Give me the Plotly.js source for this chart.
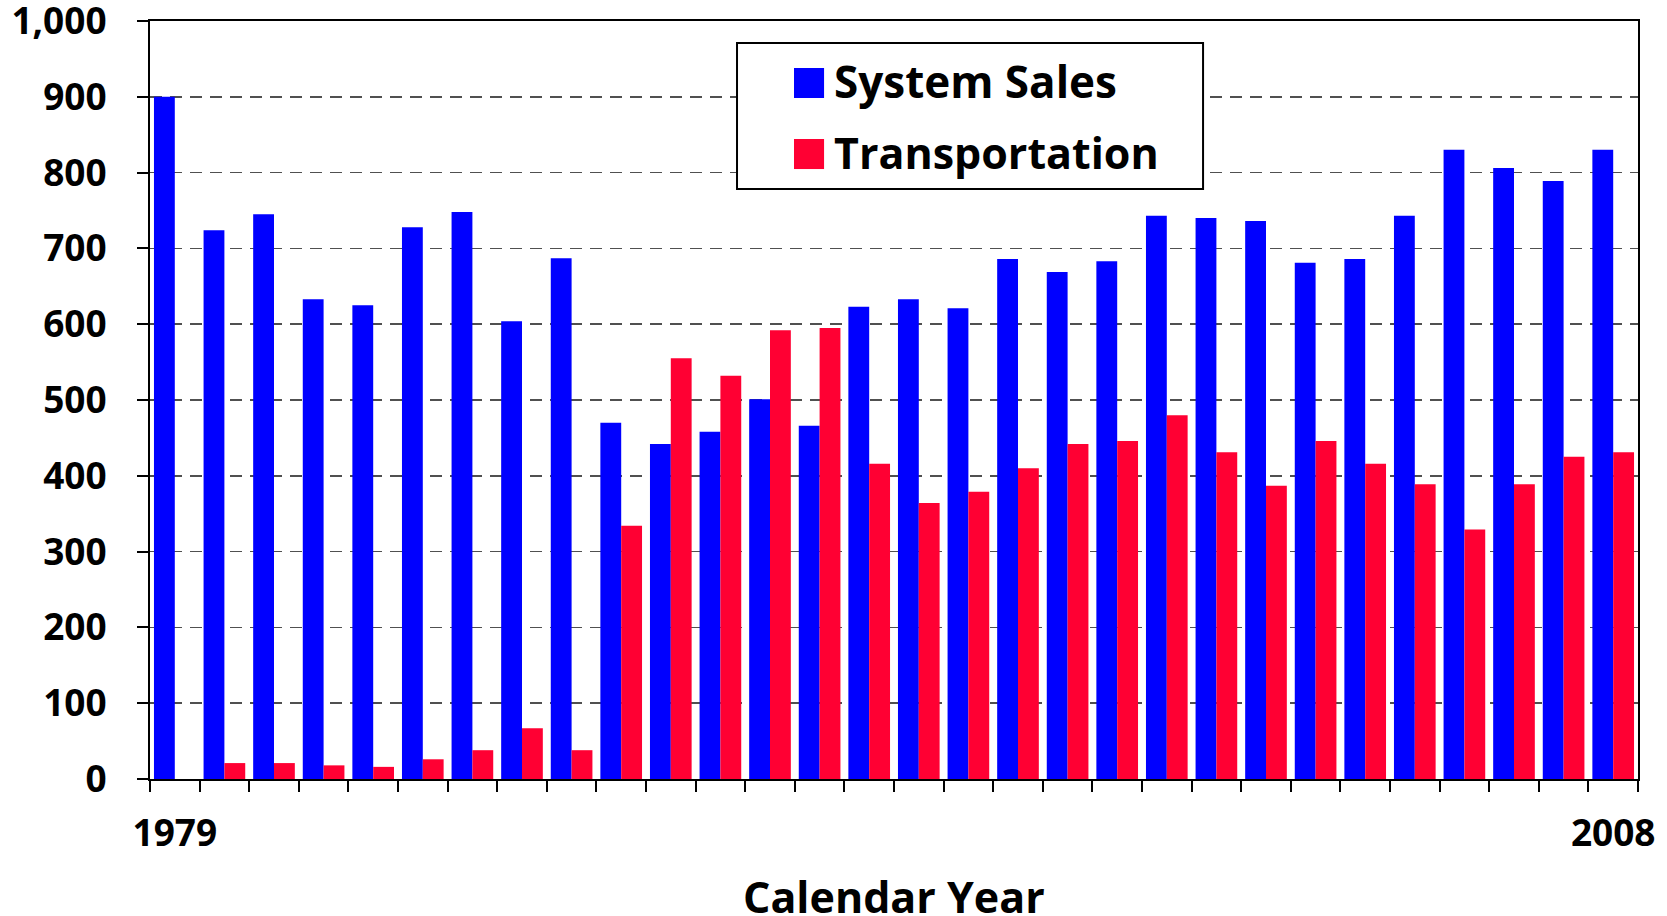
<!DOCTYPE html>
<html>
<head>
<meta charset="utf-8">
<script src="https://cdn.plot.ly/plotly-3.0.1.min.js"></script>
<style>html,body{margin:0;padding:0;background:#fff;}#chart{width:1667px;height:916px;}</style>
</head>
<body>
<div id="chart"></div>
<script>
// ---- data ----
const years = ['1979','1980','1981','1982','1983','1984','1985','1986','1987','1988',
               '1989','1990','1991','1992','1993','1994','1995','1996','1997','1998',
               '1999','2000','2001','2002','2003','2004','2005','2006','2007','2008'];
const yearLabels = ['1979','','','','','','','','','','','','','','','','','','','','','','','','','','','','','2008'];
const systemSales = [900,724,745,633,625,728,748,604,687,470,
                     442,458,501,466,623,633,621,686,669,683,
                     743,740,736,681,686,743,830,806,789,830];
const transportation = [0,21,21,18,16,26,38,67,38,334,
                        555,532,592,595,416,364,379,410,442,446,
                        480,431,387,446,416,389,329,389,425,431];
const seriesNames = ['System Sales','Transportation'];
const seriesColors = ['#0000ff','#ff0033'];
const yTickVals = [0,100,200,300,400,500,600,700,800,900,1000];
const xTitle = 'Calendar Year';

// ---- chart ----
const FONT = 'Open Sans, Noto Sans, sans-serif';
const traces = [
  {type:'bar', x: years, y: systemSales, name: seriesNames[0],
   marker:{color: seriesColors[0]}, showlegend:false, hoverinfo:'x+y'},
  {type:'bar', x: years, y: transportation, name: seriesNames[1],
   marker:{color: seriesColors[1]}, showlegend:false, hoverinfo:'x+y'}
];

const layout = {
  width:1667, height:916,
  margin:{l:150, r:29, t:21, b:137},
  paper_bgcolor:'#ffffff', plot_bgcolor:'#ffffff',
  barmode:'group', bargap:0.16, bargroupgap:0,
  showlegend:false,
  font:{family:FONT, color:'#000'},
  xaxis:{
    type:'category', tickson:'boundaries',
    tickmode:'array', tickvals: years, ticktext: yearLabels, tickangle:0,
    ticks:'outside', ticklen:11, tickwidth:2, tickcolor:'#000',
    showline:true, linewidth:2, linecolor:'#000', mirror:true,
    showgrid:false, zeroline:false,
    tickfont:{family:FONT, size:37, weight:'bold', color:'#000'},
    ticklabelstandoff:21,
    automargin:false
  },
  xaxis2:{
    overlaying:'x', anchor:'y', side:'bottom', type:'linear',
    range:[-0.5, years.length-0.5], tick0:-0.5, dtick:1,
    ticks:'inside', ticklen:11, tickwidth:2, tickcolor:'#000',
    showticklabels:false, showgrid:false, zeroline:false, showline:false
  },
  yaxis:{
    range:[0,1000], tickmode:'array', tickvals: yTickVals, tickformat:',',
    ticks:'outside', ticklen:11, tickwidth:2, tickcolor:'#000',
    showline:true, linewidth:2, linecolor:'#000', mirror:true,
    showgrid:true, gridcolor:'#505050', gridwidth:1.5, griddash:'12px,8px',
    zeroline:false,
    tickfont:{family:FONT, size:37, weight:'bold', color:'#000'},
    ticklabelstandoff:23, ticklabeloverflow:'allow',
    automargin:false
  },
  yaxis2:{
    overlaying:'y', anchor:'x', side:'left',
    range:[0,1000], tickmode:'array', tickvals: yTickVals,
    ticks:'inside', ticklen:11, tickwidth:2, tickcolor:'#000',
    showticklabels:false, showgrid:false, zeroline:false, showline:false
  },
  shapes:[
    {type:'rect', xref:'paper', yref:'paper', x0:0.3945, x1:0.7077, y0:0.7784, y1:0.971,
     fillcolor:'#ffffff', line:{color:'#000', width:2}, layer:'above'},
    {type:'rect', xref:'paper', yref:'paper', x0:0.4328, x1:0.4530, y0:0.8984, y1:0.938,
     fillcolor:seriesColors[0], line:{width:0}, layer:'above'},
    {type:'rect', xref:'paper', yref:'paper', x0:0.4328, x1:0.4530, y0:0.8047, y1:0.8443,
     fillcolor:seriesColors[1], line:{width:0}, layer:'above'}
  ],
  annotations:[
    {xref:'paper', yref:'paper', x:0.4580, y:0.9205, xanchor:'left', yanchor:'middle',
     text:seriesNames[0], showarrow:false, font:{family:FONT, size:44, weight:'bold', color:'#000'}},
    {xref:'paper', yref:'paper', x:0.4580, y:0.8260, xanchor:'left', yanchor:'middle',
     text:seriesNames[1], showarrow:false, font:{family:FONT, size:43, weight:'bold', color:'#000'}},
    {xref:'paper', yref:'paper', x:0.5, y:0, yshift:-117, xanchor:'center', yanchor:'middle',
     text:xTitle, showarrow:false, font:{family:FONT, size:43, weight:'bold', color:'#000'}}
  ]
};

Plotly.newPlot('chart', traces, layout, {displayModeBar:false, staticPlot:true});
</script>
</body>
</html>
